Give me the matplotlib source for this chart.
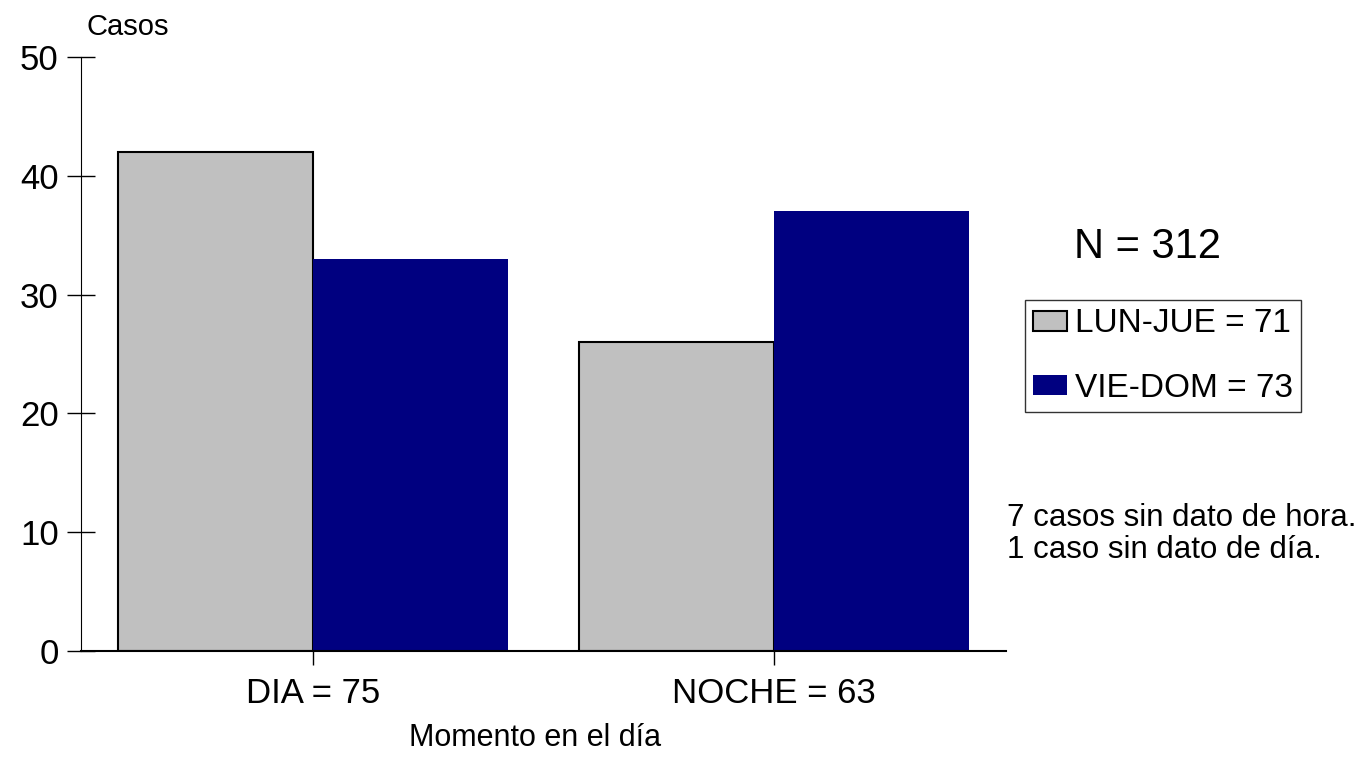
import matplotlib
matplotlib.use("Agg")
import matplotlib.pyplot as plt
import numpy as np

momentos = ["DIA = 75", "NOCHE = 63"]
series = ["LUN-JUE = 71", "VIE-DOM = 73"]
lun_jue = [42, 26]
vie_dom = [33, 37]
colores = ["#c0c0c0", "#000080"]

plt.rcParams['font.family'] = ['Liberation Sans', 'DejaVu Sans']

fig = plt.figure(figsize=(13.7, 7.72), dpi=100)
ax = fig.add_axes([81 / 1370, 121 / 772, 925 / 1370, 594 / 772])

x = np.arange(len(momentos))
w = 0.423
ax.bar(x - w / 2, lun_jue, w, color=colores[0], edgecolor="black", linewidth=1.5, label=series[0])
ax.bar(x + w / 2, vie_dom, w, color=colores[1], edgecolor="none", label=series[1])

ax.set_xlim(-0.503, 1.503)
ax.set_ylim(0, 50)
ax.set_yticks([0, 10, 20, 30, 40, 50])
ax.set_xticks(x)
ax.set_xticklabels(momentos, fontsize=25)
ax.tick_params(axis="y", direction="inout", length=20, width=1, labelsize=25, pad=6)
ax.tick_params(axis="x", direction="out", length=10, width=1, pad=9)

for s in ["top", "right"]:
    ax.spines[s].set_visible(False)
ax.spines["bottom"].set_linewidth(1.5)

# textos sueltos
fig.text(535 / 1370, 1 - 738 / 772, "Momento en el día", fontsize=22, va="center", ha="center")
fig.text(87 / 1370, 1 - 27 / 772, "Casos", fontsize=21, va="center", ha="left")
fig.text(1148 / 1370, 1 - 247 / 772, "N = 312", fontsize=30, va="center", ha="center")
fig.text(1007 / 1370, 1 - 518 / 772, "7 casos sin dato de hora.", fontsize=22.5, va="center", ha="left")
fig.text(1007 / 1370, 1 - 550 / 772, "1 caso sin dato de día.", fontsize=22.5, va="center", ha="left")

leg = ax.legend(loc="upper left", bbox_to_anchor=(1025 / 1370, 1 - 300 / 772),
                bbox_transform=fig.transFigure, fontsize=24, frameon=True, fancybox=False,
                handlelength=1.0, handleheight=0.55, handletextpad=0.25, labelspacing=1.0,
                borderpad=0.25, borderaxespad=0)
leg.get_frame().set_edgecolor("black")
leg.get_frame().set_linewidth(1)

fig.savefig("out.png", dpi=100)
